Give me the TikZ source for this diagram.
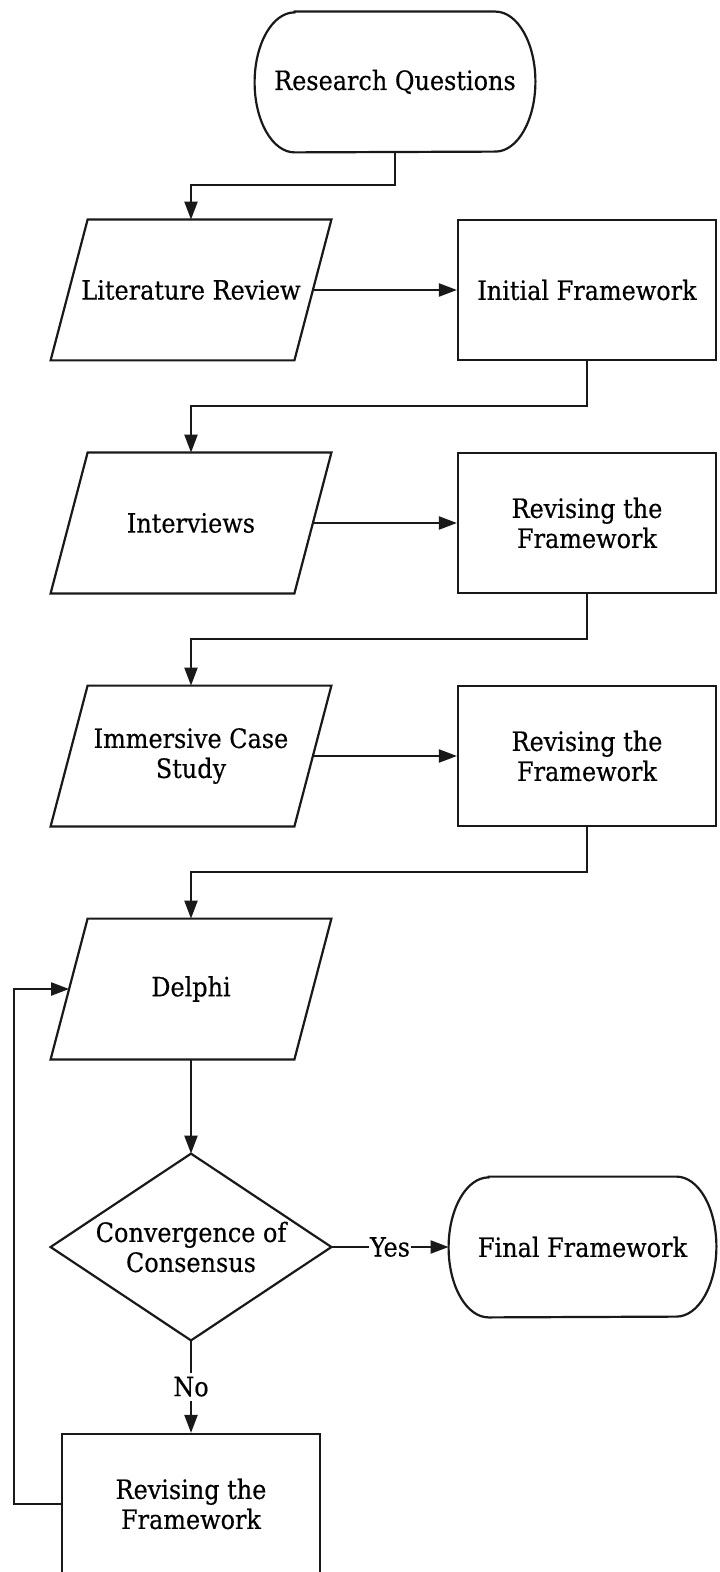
\documentclass[tikz,border=0pt]{standalone}
\usepackage{fontspec}
\setmainfont[FakeBold=0.4]{DejaVu Serif Condensed}
\usetikzlibrary{arrows.meta}

\begin{document}
\begin{tikzpicture}[x=0.5pt,y=-0.5pt,
  line/.style={draw=black!90, line width=1.1pt},
  base/.style={inner sep=0pt, align=center, font=\fontsize{13.3}{15}\selectfont, text=black},
  box/.style={base, line, minimum width=129pt, minimum height=70pt},
  para/.style={base, minimum width=121.5pt, minimum height=70pt},
  stadium/.style={base, minimum height=70pt},
  decision/.style={base, minimum width=140pt, minimum height=93pt},
  flow/.style={line, -{Triangle[length=9pt,width=6.5pt]}},
  tag/.style={base, fill=white, inner xsep=0.4pt, inner ysep=2pt}]

\useasboundingbox (0,0) rectangle (719,1572);
\fill[white] (0,0) rectangle (719,1572);

% nodes
\node[stadium, minimum width=140pt] (rq) at (395,82) {Research Questions};
\node[para] (lit) at (191,290) {Literature Review};
\node[box] (init) at (587,290) {Initial Framework};
\node[para] (intv) at (191,523) {Interviews};
\node[box] (rev1) at (587,523) {Revising the\\Framework};
\node[para] (ics) at (191,756) {Immersive Case\\Study};
\node[box] (rev2) at (587,756) {Revising the\\Framework};
\node[para] (del) at (191,989) {Delphi};
\node[decision] (conv) at (191,1247) {Convergence of\\Consensus};
\node[stadium, minimum width=133.5pt] (fin) at (582.5,1247) {Final Framework};
\node[box] (rev3) at (191,1504) {Revising the\\Framework};

% parallelogram outlines (input/output steps)
\foreach \n in {lit,intv,ics,del}
  \draw[line] ([xshift=9.25pt]\n.north west) -- ([xshift=9.25pt]\n.north east)
    -- ([xshift=-9.25pt]\n.south east) -- ([xshift=-9.25pt]\n.south west) -- cycle;

% decision outline
\draw[line] (conv.north) -- (conv.east) -- (conv.south) -- (conv.west) -- cycle;

% terminal outlines with elliptical ends
\foreach \n in {rq,fin}
  \draw[line] ([xshift=20pt]\n.north west) -- ([xshift=-20pt]\n.north east)
    arc[start angle=90, end angle=-90, x radius=20pt, y radius=35pt]
    -- ([xshift=20pt]\n.south west)
    arc[start angle=270, end angle=90, x radius=20pt, y radius=35pt] -- cycle;

% connectors
\draw[flow] (rq.south) -- ++(0,33) -| (lit.north);
\draw[flow] (lit.east) -- (init.west);
\draw[flow] (init.south) -- ++(0,45) -| (intv.north);
\draw[flow] (intv.east) -- (rev1.west);
\draw[flow] (rev1.south) -- ++(0,45) -| (ics.north);
\draw[flow] (ics.east) -- (rev2.west);
\draw[flow] (rev2.south) -- ++(0,45) -| (del.north);
\draw[flow] (del.south) -- (conv.north);
\draw[flow] (conv.east) -- node[tag] {Yes} (fin.west);
\draw[flow] (conv.south) -- node[tag] {No} (rev3.north);
\draw[flow] (rev3.west) -- ++(-47,0) |- (del.west);
\end{tikzpicture}
\end{document}
